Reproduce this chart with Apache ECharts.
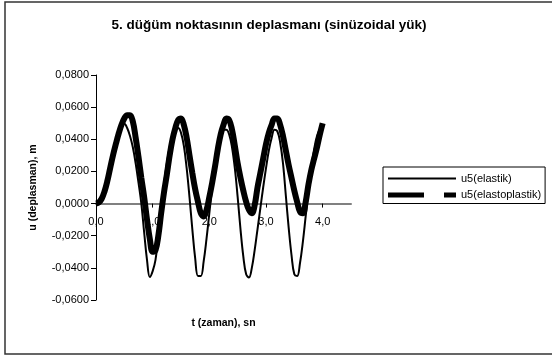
<!DOCTYPE html>
<html>
<head>
<meta charset="utf-8">
<script src="https://cdn.jsdelivr.net/npm/echarts@6/dist/echarts.min.js"></script>
<style>
  html, body { margin: 0; padding: 0; background: #fff; }
  #chart { width: 552px; height: 356px; }
</style>
</head>
<body>
<div id="chart"></div>
<script>
// Time steps (s)
const time = [
  0.00, 0.05, 0.10, 0.15, 0.20, 0.25, 0.30, 0.35, 0.40, 0.45,
  0.50, 0.55, 0.60, 0.65, 0.70, 0.75, 0.80, 0.85, 0.90, 0.95,
  1.00, 1.05, 1.10, 1.15, 1.20, 1.25, 1.30, 1.35, 1.40, 1.45,
  1.50, 1.55, 1.60, 1.65, 1.70, 1.75, 1.80, 1.85, 1.90, 1.95,
  2.00, 2.05, 2.10, 2.15, 2.20, 2.25, 2.30, 2.35, 2.40, 2.45,
  2.50, 2.55, 2.60, 2.65, 2.70, 2.75, 2.80, 2.85, 2.90, 2.95,
  3.00, 3.05, 3.10, 3.15, 3.20, 3.25, 3.30, 3.35, 3.40, 3.45,
  3.50, 3.55, 3.60, 3.65, 3.70, 3.75, 3.80, 3.85, 3.90, 3.95,
  4.00
];

// Node 5 displacement, elastic model (m)
const u5Elastic = [
  0.0000, 0.0007, 0.0030, 0.0075, 0.0140, 0.0220, 0.0300, 0.0370, 0.0430, 0.0480,
  0.0497, 0.0470, 0.0420, 0.0350, 0.0250, 0.0130, 0.0000, -0.0180, -0.0350, -0.0457,
  -0.0420, -0.0350, -0.0200, -0.0030, 0.0120, 0.0250, 0.0350, 0.0420, 0.0460, 0.0470,
  0.0440, 0.0360, 0.0220, 0.0040, -0.0160, -0.0340, -0.0450, -0.0450, -0.0360, -0.0220,
  -0.0060, 0.0100, 0.0240, 0.0350, 0.0420, 0.0460, 0.0460, 0.0430, 0.0350, 0.0220,
  0.0040, -0.0160, -0.0330, -0.0440, -0.0460, -0.0400, -0.0290, -0.0160, -0.0030, 0.0100,
  0.0220, 0.0330, 0.0410, 0.0460, 0.0450, 0.0380, 0.0250, 0.0050, -0.0150, -0.0320,
  -0.0440, -0.0450, -0.0370, -0.0240, -0.0080, 0.0080, 0.0220, 0.0340, 0.0420, 0.0460,
  0.0470
];

// Node 5 displacement, elastoplastic model (m)
const u5Elastoplastic = [
  0.0000, 0.0007, 0.0030, 0.0075, 0.0140, 0.0220, 0.0300, 0.0370, 0.0435, 0.0490,
  0.0530, 0.0550, 0.0550, 0.0510, 0.0410, 0.0290, 0.0160, 0.0040, -0.0100, -0.0220,
  -0.0300, -0.0290, -0.0200, -0.0060, 0.0070, 0.0180, 0.0300, 0.0400, 0.0470, 0.0520,
  0.0530, 0.0490, 0.0410, 0.0300, 0.0190, 0.0090, 0.0010, -0.0060, -0.0080, -0.0040,
  0.0040, 0.0130, 0.0230, 0.0340, 0.0430, 0.0490, 0.0530, 0.0520, 0.0460, 0.0360,
  0.0250, 0.0160, 0.0080, 0.0010, -0.0040, -0.0060, -0.0010, 0.0100, 0.0190, 0.0280,
  0.0370, 0.0440, 0.0490, 0.0530, 0.0530, 0.0490, 0.0420, 0.0330, 0.0240, 0.0160,
  0.0080, 0.0010, -0.0050, -0.0060, 0.0010, 0.0120, 0.0210, 0.0280, 0.0350, 0.0430,
  0.0500
];

// Axis ticks and ranges
const xTicks = [0, 1, 2, 3, 4];
const xRange = [0, 4.5];
const yRange = [-0.06, 0.08];

const titleText = '5. düğüm noktasının deplasmanı (sinüzoidal yük)';
const xName = 't (zaman), sn';
const yName = 'u (deplasman), m';
const nameElastic = 'u5(elastik)';
const nameElastoplastic = 'u5(elastoplastik)';

const pairs = (ys) => time.map((t, i) => [t, ys[i]]);
const FONT = '"Liberation Sans", Arial, sans-serif';

// Plot box
const GRID = { left: 96, top: 75, width: 255, height: 225 };
// The time axis runs along u = 0: lift it from the bottom of the plot by the height of the negative range
const zeroLift = GRID.height * (0 - yRange[0]) / (yRange[1] - yRange[0]);

// Legend glyphs: thin solid line, and a thick long-dash / short-dash line
const iconSolid = 'path://M0,0H68V2H0Z';
const iconDashed = 'path://M0,0H36V5H0Z M56,0H68V5H56Z';

const chart = echarts.init(document.getElementById('chart'), null, { renderer: 'canvas' });

chart.setOption({
  backgroundColor: '#ffffff',
  animation: false,
  textStyle: { fontFamily: FONT, color: '#000' },
  title: {
    text: titleText,
    left: 264,
    top: 13,
    textAlign: 'center',
    textStyle: { fontFamily: FONT, fontSize: 13.5, fontWeight: 'bold', color: '#000' }
  },
  graphic: [{
    type: 'rect',
    shape: { x: 5, y: 2, width: 600, height: 352 },
    style: { fill: 'none', stroke: '#333', lineWidth: 1.5 },
    silent: true,
    z: -10
  }],
  legend: {
    orient: 'vertical',
    left: 383,
    top: 167,
    padding: [6, 4, 3, 5],
    itemWidth: 68,
    itemHeight: 14,
    itemGap: 5.5,
    symbolKeepAspect: true,
    borderColor: '#000',
    borderWidth: 1,
    borderRadius: 0,
    backgroundColor: '#fff',
    textStyle: { fontFamily: FONT, fontSize: 11, color: '#000' },
    data: [
      { name: nameElastic, icon: iconSolid },
      { name: nameElastoplastic, icon: iconDashed }
    ]
  },
  grid: Object.assign({ containLabel: false, outerBoundsMode: 'none' }, GRID),
  xAxis: {
    type: 'value',
    min: xRange[0],
    max: xRange[1],
    interval: 1,
    position: 'bottom',
    offset: -zeroLift,
    name: xName,
    nameLocation: 'middle',
    nameGap: 114,
    nameTextStyle: { fontFamily: FONT, fontSize: 10.5, fontWeight: 'bold', color: '#000' },
    axisLine: { show: true, onZero: false, lineStyle: { color: '#808080', width: 2 } },
    axisTick: { show: true, length: 4, customValues: xTicks, lineStyle: { color: '#000', width: 1 } },
    axisLabel: {
      customValues: xTicks,
      margin: 13,
      fontFamily: FONT, fontSize: 11, color: '#000',
      formatter: (v) => v.toFixed(1).replace('.', ',')
    },
    splitLine: { show: false }
  },
  yAxis: {
    type: 'value',
    min: yRange[0],
    max: yRange[1],
    interval: 0.02,
    name: yName,
    nameLocation: 'middle',
    nameGap: 57,
    nameRotate: 90,
    nameTextStyle: { fontFamily: FONT, fontSize: 10.5, fontWeight: 'bold', color: '#000' },
    axisLine: { show: true, onZero: false, lineStyle: { color: '#000', width: 1 } },
    axisTick: { show: true, length: 5, lineStyle: { color: '#000', width: 1 } },
    axisLabel: {
      margin: 7,
      fontFamily: FONT, fontSize: 11, color: '#000',
      formatter: (v) => (Math.round(v * 10000) / 10000).toFixed(4).replace('.', ',')
    },
    splitLine: { show: false }
  },
  series: [
    {
      name: nameElastoplastic,
      type: 'line',
      data: pairs(u5Elastoplastic),
      smooth: 0.4,
      showSymbol: false,
      symbol: 'none',
      lineStyle: { color: '#000', width: 6 },
      itemStyle: { color: '#000' },
      z: 2
    },
    {
      name: nameElastic,
      type: 'line',
      data: pairs(u5Elastic),
      smooth: 0.4,
      showSymbol: false,
      symbol: 'none',
      lineStyle: { color: '#000', width: 2 },
      itemStyle: { color: '#000' },
      z: 3
    }
  ]
});
</script>
</body>
</html>
